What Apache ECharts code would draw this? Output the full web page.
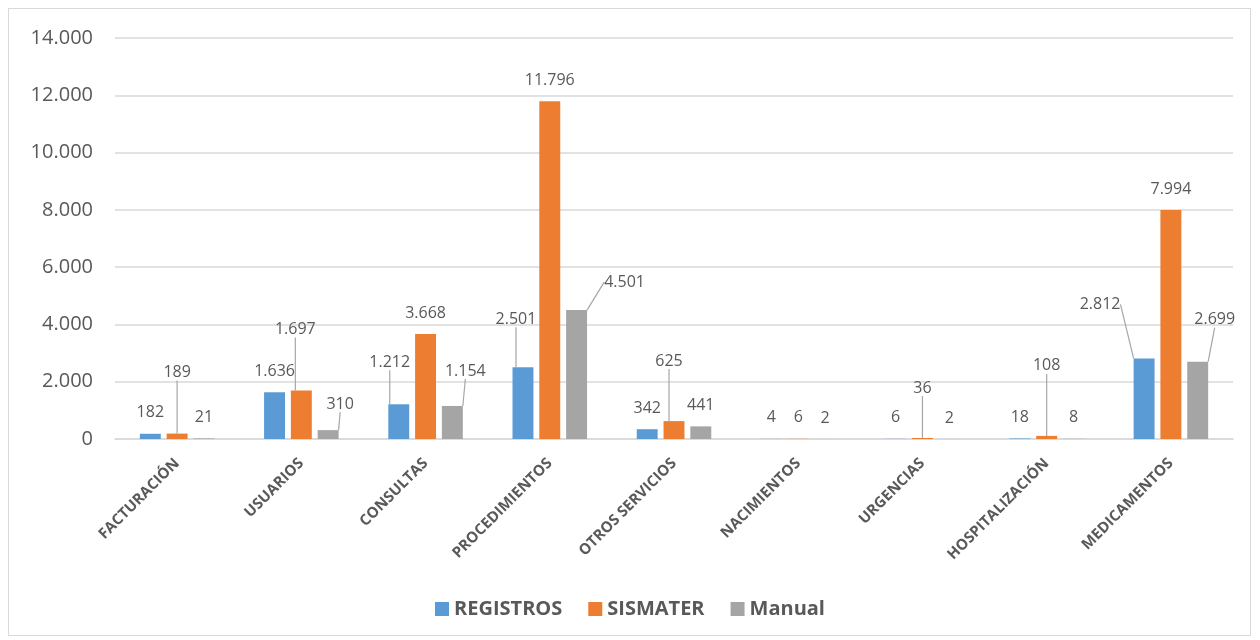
<!DOCTYPE html>
<html>
<head>
<meta charset="utf-8">
<script src="https://cdn.jsdelivr.net/npm/echarts@6/dist/echarts.min.js"></script>
<style>
  body { margin: 0; background: #fff; }
  #frame { position: absolute; left: 8px; top: 8px; width: 1241px; height: 626px; border: 1px solid #d9d9d9; }
  #chart { position: absolute; left: 0; top: 0; width: 1260px; height: 640px; }
</style>
</head>
<body>
<div id="frame"></div>
<div id="chart"></div>
<script>
const categories = ['FACTURACIÓN', 'USUARIOS', 'CONSULTAS', 'PROCEDIMIENTOS', 'OTROS SERVICIOS',
  'NACIMIENTOS', 'URGENCIAS', 'HOSPITALIZACIÓN', 'MEDICAMENTOS']
const registros = [182, 1636, 1212, 2501, 342, 4, 6, 18, 2812]
const sismater = [189, 1697, 3668, 11796, 625, 6, 36, 108, 7994]
const manual = [21, 310, 1154, 4501, 441, 2, 2, 8, 2699]
const yTicks = [0, 2000, 4000, 6000, 8000, 10000, 12000, 14000]

// labels moved by hand in the original (dx, dy) -> these get a leader line
const labelShift = [
  { 2: [-9, -21], 3: [-7, -27], 8: [-44, -33] },
  { 0: [0, -40], 1: [-6, -40], 4: [-5, -39], 6: [0, -29], 7: [0, -49] },
  { 1: [12, -5], 2: [13, -14], 3: [48, -7], 8: [17, -21] }
]

const fmt = v => String(v).replace(/\B(?=(\d{3})+(?!\d))/g, '.')
const textColor = '#595959'
const font = 'Open Sans'

function makeSeries (name, values, color, idx) {
  return {
    name: name,
    type: 'bar',
    barGap: '28%',
    barCategoryGap: '40%',
    itemStyle: { color: color },
    data: values.map((v, i) => ({
      value: v,
      labelLine: { show: !!labelShift[idx][i] }
    })),
    label: {
      show: true,
      position: 'top',
      distance: 13,
      color: textColor,
      fontFamily: font,
      fontSize: 16,
      formatter: p => fmt(p.value)
    },
    labelLine: {
      show: false,
      lineStyle: { color: '#a6a6a6', width: 1.2 }
    },
    labelLayout: function (params) {
      const s = labelShift[idx][params.dataIndex]
      if (s) return { dx: s[0], dy: s[1] }
      return {}
    }
  }
}

const chart = echarts.init(document.getElementById('chart'))
chart.setOption({
  animation: false,
  grid: { left: 115, right: 27, top: 38, bottom: 201 },
  legend: {
    top: 594,
    left: 'center',
    icon: 'rect',
    itemWidth: 14,
    itemHeight: 14,
    itemGap: 26,
    textStyle: { color: textColor, fontFamily: font, fontSize: 20, fontWeight: 'bold' }
  },
  xAxis: {
    type: 'category',
    data: categories,
    axisLine: { lineStyle: { color: '#d9d9d9', width: 1.5 } },
    axisTick: { show: false },
    axisLabel: {
      rotate: 45,
      interval: 0,
      margin: 22,
      color: textColor,
      fontFamily: font,
      fontSize: 15,
      fontWeight: 'bold'
    }
  },
  yAxis: {
    type: 'value',
    min: yTicks[0],
    max: yTicks[yTicks.length - 1],
    interval: yTicks[1] - yTicks[0],
    axisLine: { show: false },
    axisTick: { show: false },
    splitLine: { lineStyle: { color: '#d9d9d9', width: 1.5 } },
    axisLabel: {
      margin: 22,
      color: textColor,
      fontFamily: font,
      fontSize: 20,
      formatter: v => fmt(v)
    }
  },
  series: [
    makeSeries('REGISTROS', registros, '#5b9bd5', 0),
    makeSeries('SISMATER', sismater, '#ed7d31', 1),
    makeSeries('Manual', manual, '#a5a5a5', 2)
  ]
})
</script>
</body>
</html>
